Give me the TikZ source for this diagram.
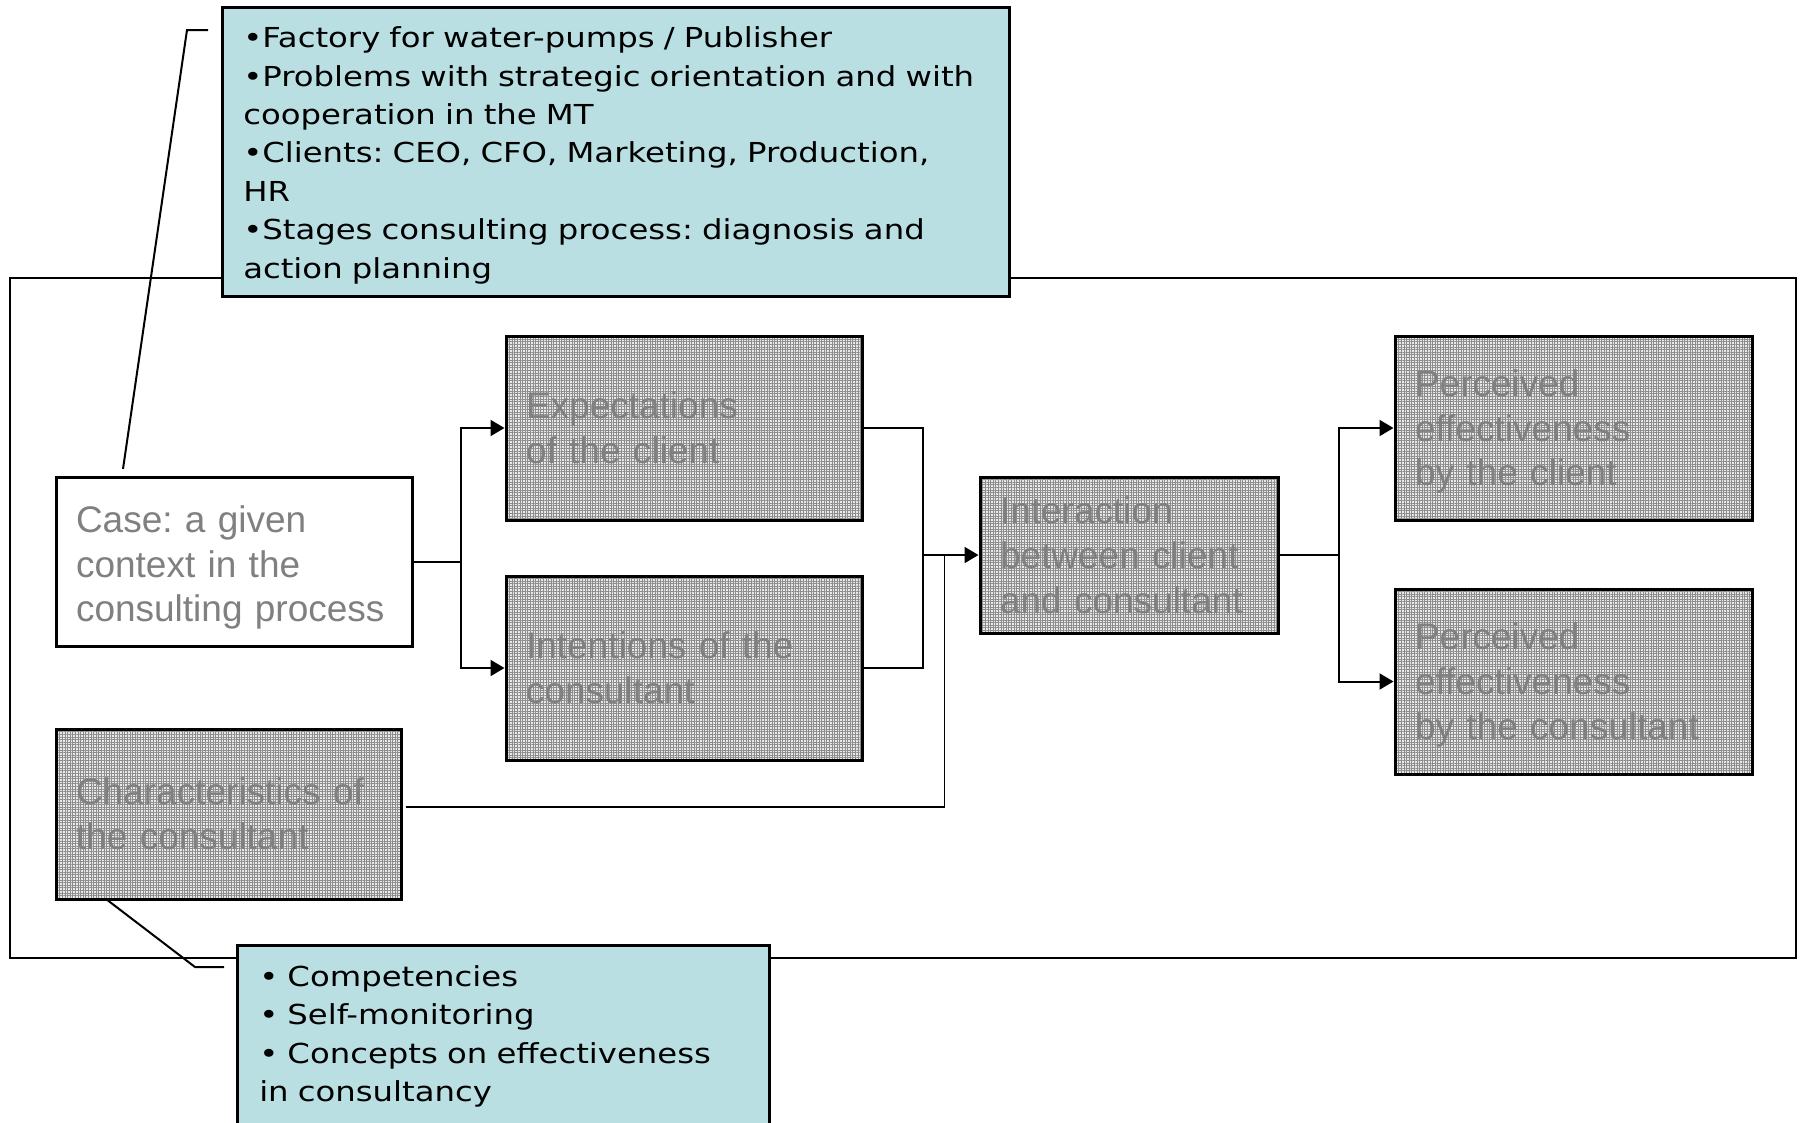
\documentclass[tikz,border=0pt]{standalone}
\usepackage{fontspec}
\setmainfont{Liberation Sans}
\newfontfamily\notefont[FakeStretch=1.175]{DejaVu Sans}
\usetikzlibrary{arrows.meta,patterns.meta,calc}

\definecolor{notefill}{RGB}{186,223,227}
\definecolor{boxtext}{RGB}{128,128,128}
\definecolor{gridline}{RGB}{140,140,140}
\definecolor{gridbase}{RGB}{232,232,232}

\tikzset{
  frameline/.style={draw=black, line width=2pt},
  notebox/.style={draw=black, line width=2.5pt, fill=notefill, anchor=north west,
    inner sep=0pt, align=left, font=\notefont\fontsize{27.5}{38.4}\selectfont},
  factorbox/.style={draw=black, line width=3pt, inner ysep=0pt, inner xsep=20pt,
    align=left, text=boxtext, font=\fontsize{37}{44.8}\selectfont},
  shaded/.style={factorbox, fill=gridbase,
    path picture={\fill[pattern={Hatch[angle=0, distance=2.6pt, line width=1pt]}, pattern color=gridline]
      (path picture bounding box.south west) rectangle (path picture bounding box.north east);}},
  plain/.style={factorbox, fill=white},
  link/.style={draw=black, line width=2pt},
  arr/.style={link, -{Triangle[length=14pt, width=16pt]}},
  pointer/.style={draw=black, line width=2pt},
}

\begin{document}
\frenchspacing
\begin{tikzpicture}[x=1pt, y=-1pt]
\useasboundingbox (0,0) rectangle (1801,1122);
\fill[white] (0,0) rectangle (1801,1122);

% outer frame of the model
\draw[frameline] (10,278) rectangle (1796,958);

% factor boxes
\node[plain, minimum width=356pt, minimum height=169pt, text width=316pt] (case) at (234,561.5)
  {\rule{0pt}{39pt}Case: a given\\context in the\\consulting process};
\node[shaded, minimum width=356pt, minimum height=184pt, text width=316pt] (expect) at (684,428)
  {Expectations\\of the client};
\node[shaded, minimum width=356pt, minimum height=184pt, text width=316pt] (intent) at (684,668)
  {Intentions of the\\consultant};
\node[shaded, minimum width=298pt, minimum height=156pt, text width=258pt] (inter) at (1129,555)
  {Interaction\\between client\\and consultant};
\node[shaded, minimum width=357pt, minimum height=184pt, text width=317pt] (pcl) at (1573.5,428)
  {\rule{0pt}{34pt}Perceived\\effectiveness\\by the client};
\node[shaded, minimum width=357pt, minimum height=185pt, text width=317pt] (pco) at (1573.5,681.5)
  {\rule{0pt}{34pt}Perceived\\effectiveness\\by the consultant};
\node[shaded, minimum width=345pt, minimum height=170pt, text width=305pt] (char) at (228.5,814)
  {Characteristics of\\the consultant};

% connectors
\coordinate (split) at ($(case.east)+(47,0)$);
\draw[link] (case.east) -- (split);
\draw[arr] (split) |- (expect.west);
\draw[arr] (split) |- (intent.west);

\coordinate (merge) at ($(expect.east)!0.5!(intent.east)+(59,0)$);
\coordinate (join) at (merge |- inter.west);
\draw[link] (expect.east) -| (join);
\draw[link] (intent.east) -| (join);
\draw[arr] (join) -- (inter.west);

\coordinate (charjoin) at ($(inter.west)+(-34,0)$);
\draw[link, line width=1.6pt] ([shift={(3,-7)}]char.east) -| (charjoin);

\coordinate (fork) at ($(inter.east)+(59,0)$);
\draw[link] (inter.east) -- (fork);
\draw[arr] (fork) |- (pcl.west);
\draw[arr] (fork) |- (pco.west);

% callout notes
\node[notebox, minimum width=787pt, minimum height=289pt, text width=745pt, inner xsep=21pt] (note1) at (221,6)
  {\rule{0pt}{28pt}•Factory for water-pumps / Publisher\\
   •Problems with strategic orientation and with\\
   cooperation in the MT\\
   •Clients: CEO, CFO, Marketing, Production,\\
   HR\\
   •Stages consulting process: diagnosis and\\
   action planning};

\node[notebox, minimum width=532pt, minimum height=182pt, text width=488pt, inner xsep=22pt] (note2) at (236,944)
  {• Competencies\\
   • Self-monitoring\\
   • Concepts on effectiveness\\
   in consultancy};

% callout pointers
\coordinate (tip1) at (123,469);
\draw[pointer] (tip1) -- (187,30) -- ($(note1.north west)+(-13,24)$);
\coordinate (tip2) at (106,899);
\draw[pointer] (tip2) -- (195,967) -- ($(note2.north west)+(-12,23)$);
\end{tikzpicture}
\end{document}
